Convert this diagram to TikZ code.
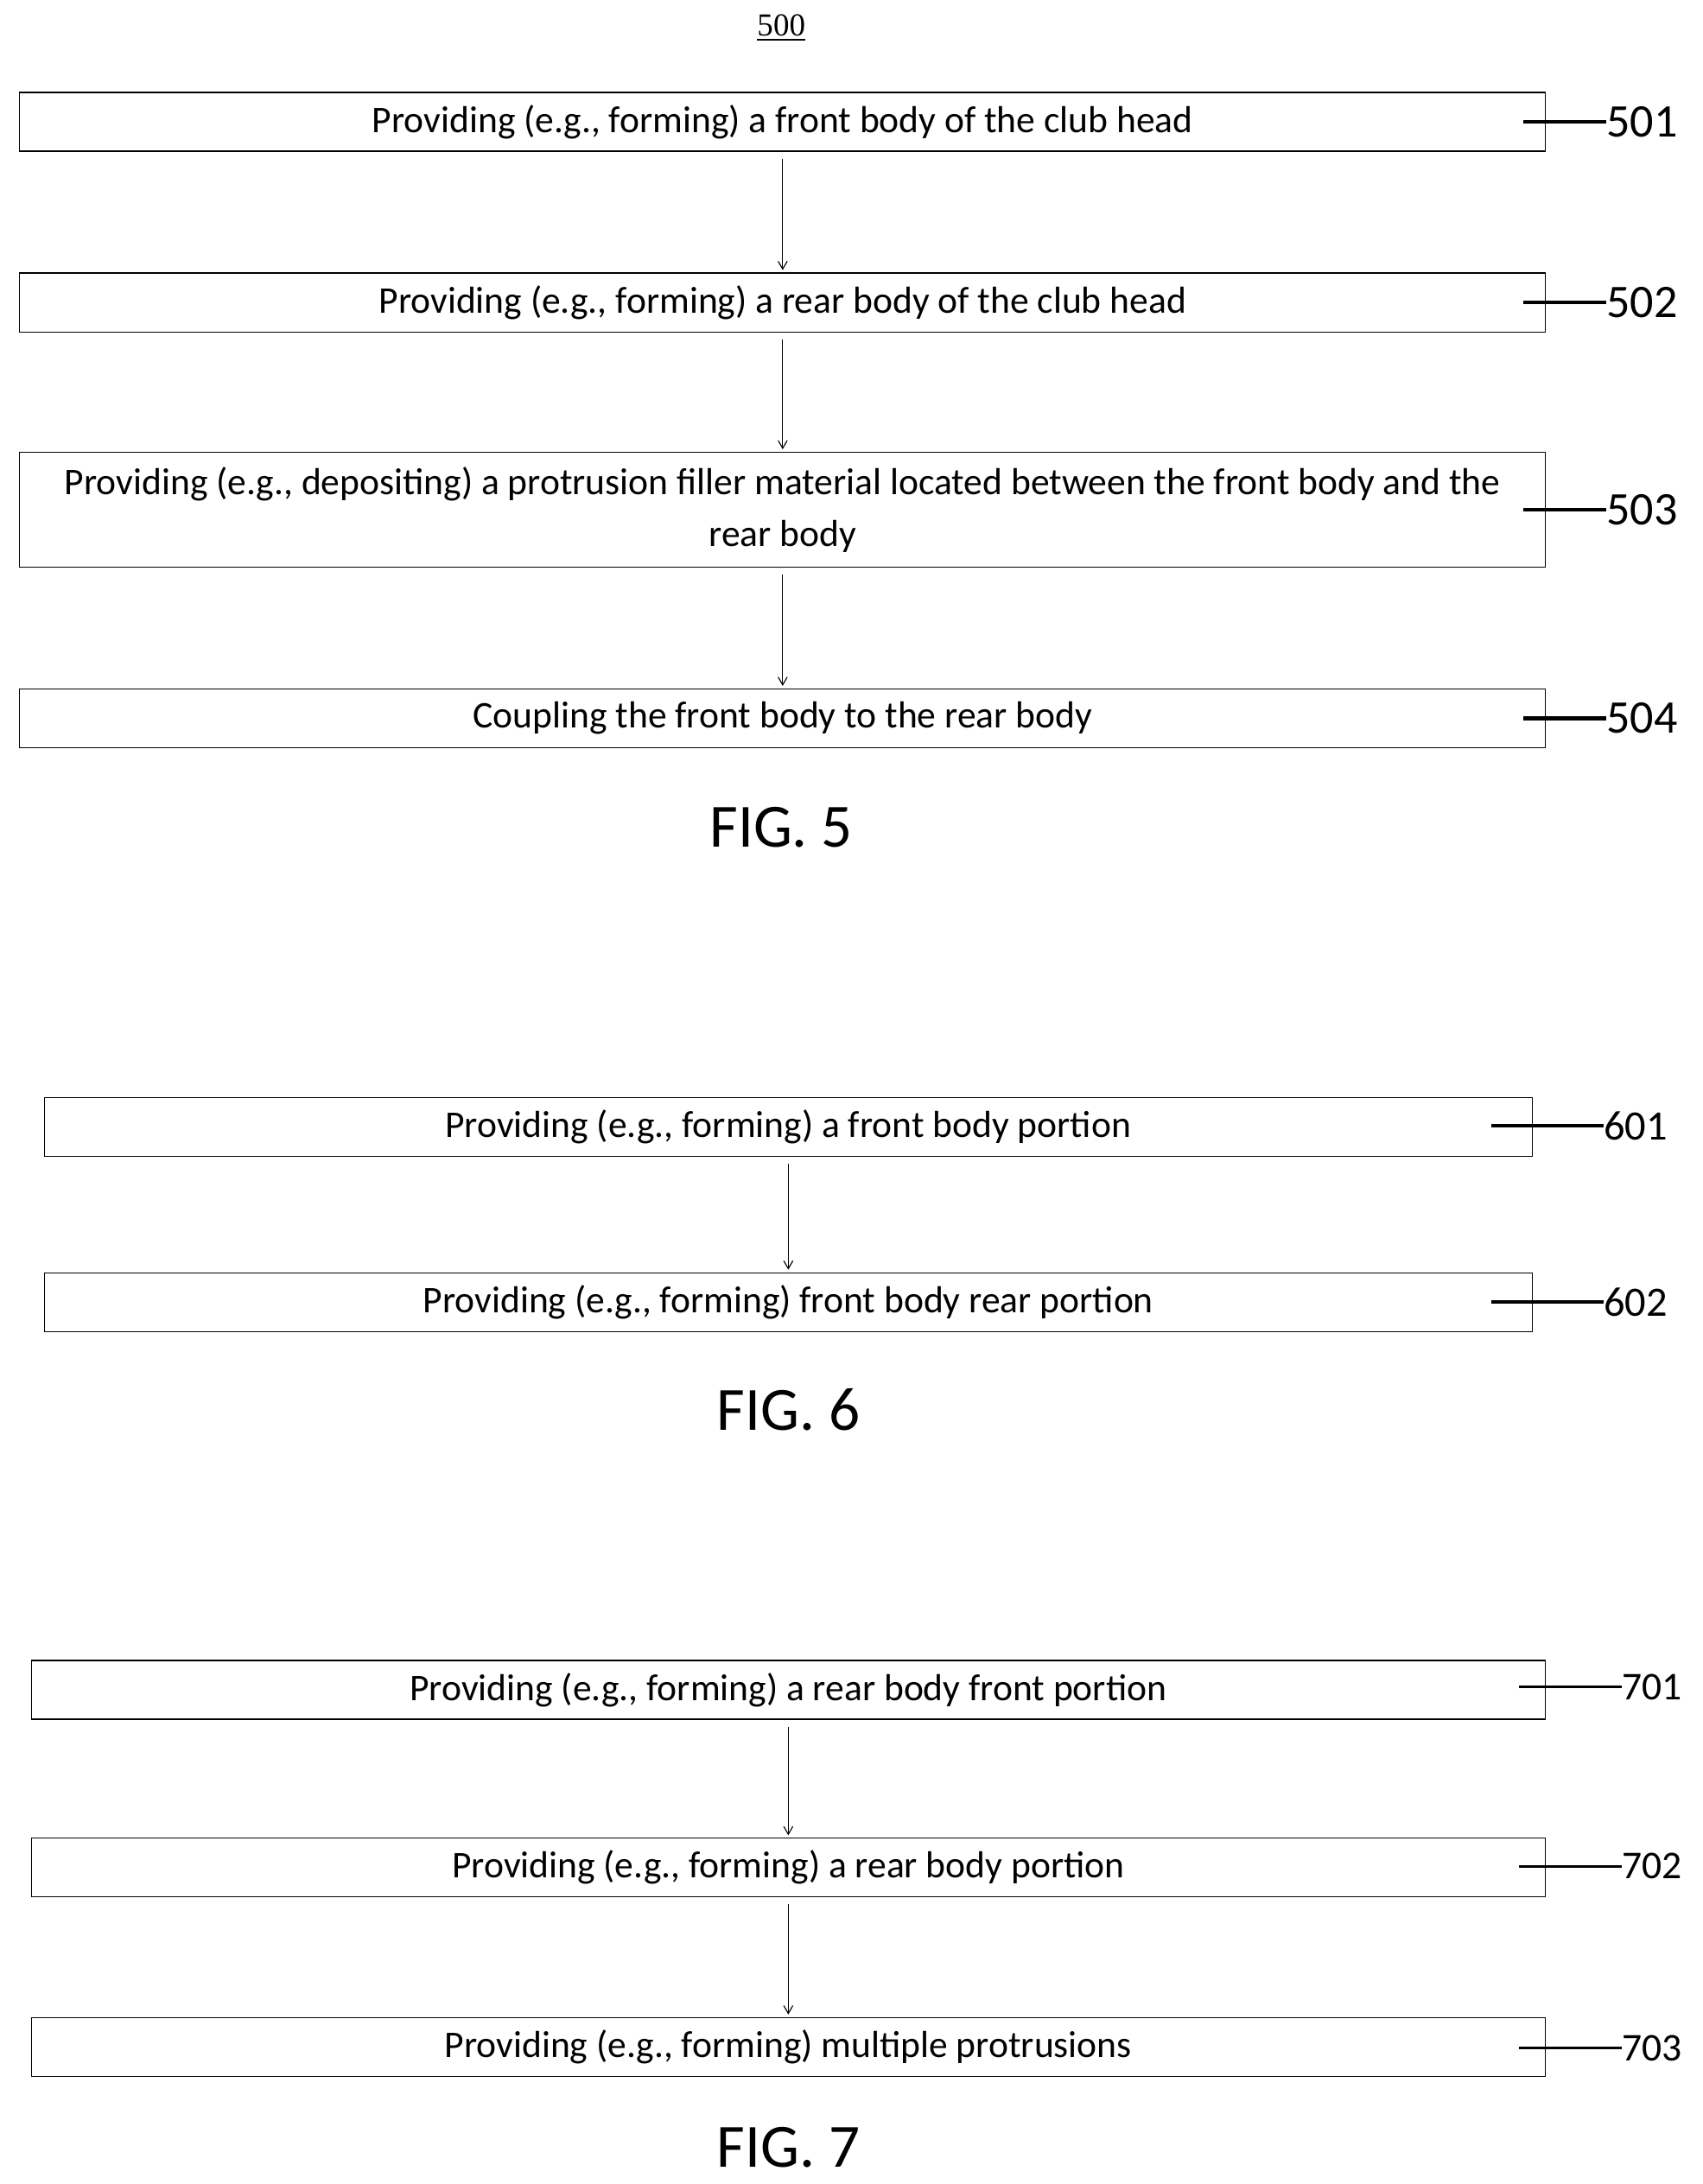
\documentclass[tikz,border=0pt]{standalone}
\usepackage{fontspec}
\setmainfont{Carlito}
\newfontfamily\numfont{Liberation Serif}
\usetikzlibrary{arrows}
\tikzset{
  stepbox/.style={draw=black, thin, minimum height=0.84cm, inner sep=0pt, align=center, font=\fontsize{15.3}{21}\selectfont},
  arrow/.style={->,>=angle 60, shorten >=1pt},
  lead/.style={line width=1.6pt},
  refnum/.style={anchor=west, inner sep=0pt, font=\fontsize{19}{20}\selectfont},
  figlabel/.style={font=\fontsize{25}{28}\selectfont}
}
\begin{document}
\begin{tikzpicture}[x=0.02cm,y=-0.02cm]
\useasboundingbox (0,0) rectangle (1216,1560);
% FIG. 5
\node (title) at (558,20) {\numfont\fontsize{13}{14}\selectfont\underline{500}};
\node (s501) [stepbox, minimum width=21.8cm] at (559,87) {Providing (e.g., forming) a front body of the club head};
\node (s502) [stepbox, minimum width=21.8cm] at (559,216) {Providing (e.g., forming) a rear body of the club head};
\node (s503) [stepbox, minimum width=21.8cm, minimum height=1.64cm] at (559,364) {Providing (e.g., depositing) a protrusion filler material located between the front body and the\\rear body};
\node (s504) [stepbox, minimum width=21.8cm] at (559,513) {Coupling the front body to the rear body};
\draw[arrow] ([yshift=-0.1cm]s501.south) -- (s502.north);
\draw[arrow] ([yshift=-0.1cm]s502.south) -- (s503.north);
\draw[arrow] ([yshift=-0.1cm]s503.south) -- (s504.north);
\foreach \n/\y in {501/87,502/216,503/364,504/513}{
  \coordinate (a\n) at (1088,\y);
  \node (r\n) [refnum] at (1147,\y) {\n};
  \draw[lead] (a\n) -- (r\n.west);
}
\node (fig5) [figlabel] at (558,591) {FIG. 5};
% FIG. 6
\node (s601) [stepbox, minimum width=21.26cm] at (563,805) {Providing (e.g., forming) a front body portion};
\node (s602) [stepbox, minimum width=21.26cm] at (563,930) {Providing (e.g., forming) front body rear portion};
\draw[arrow] ([yshift=-0.1cm]s601.south) -- (s602.north);
\foreach \n/\y in {601/804,602/930}{
  \coordinate (a\n) at (1065,\y);
  \node (r\n) [refnum, font=\fontsize{17}{18}\selectfont] at (1145,\y) {\n};
  \draw[lead] (a\n) -- (r\n.west);
}
\node (fig6) [figlabel] at (563,1007) {FIG. 6};
% FIG. 7
\node (s701) [stepbox, minimum width=21.62cm] at (563,1207) {Providing (e.g., forming) a rear body front portion};
\node (s702) [stepbox, minimum width=21.62cm] at (563,1334) {Providing (e.g., forming) a rear body portion};
\node (s703) [stepbox, minimum width=21.62cm] at (563,1462) {Providing (e.g., forming) multiple protrusions};
\draw[arrow] ([yshift=-0.1cm]s701.south) -- (s702.north);
\draw[arrow] ([yshift=-0.1cm]s702.south) -- (s703.north);
\foreach \n/\y in {701/1205,702/1333,703/1463}{
  \coordinate (a\n) at (1085,\y);
  \node (r\n) [refnum, font=\fontsize{16}{17}\selectfont] at (1158,\y) {\n};
  \draw[lead, line width=1.1pt] (a\n) -- (r\n.west);
}
\node (fig7) [figlabel] at (563,1534) {FIG. 7};
\end{tikzpicture}
\end{document}
